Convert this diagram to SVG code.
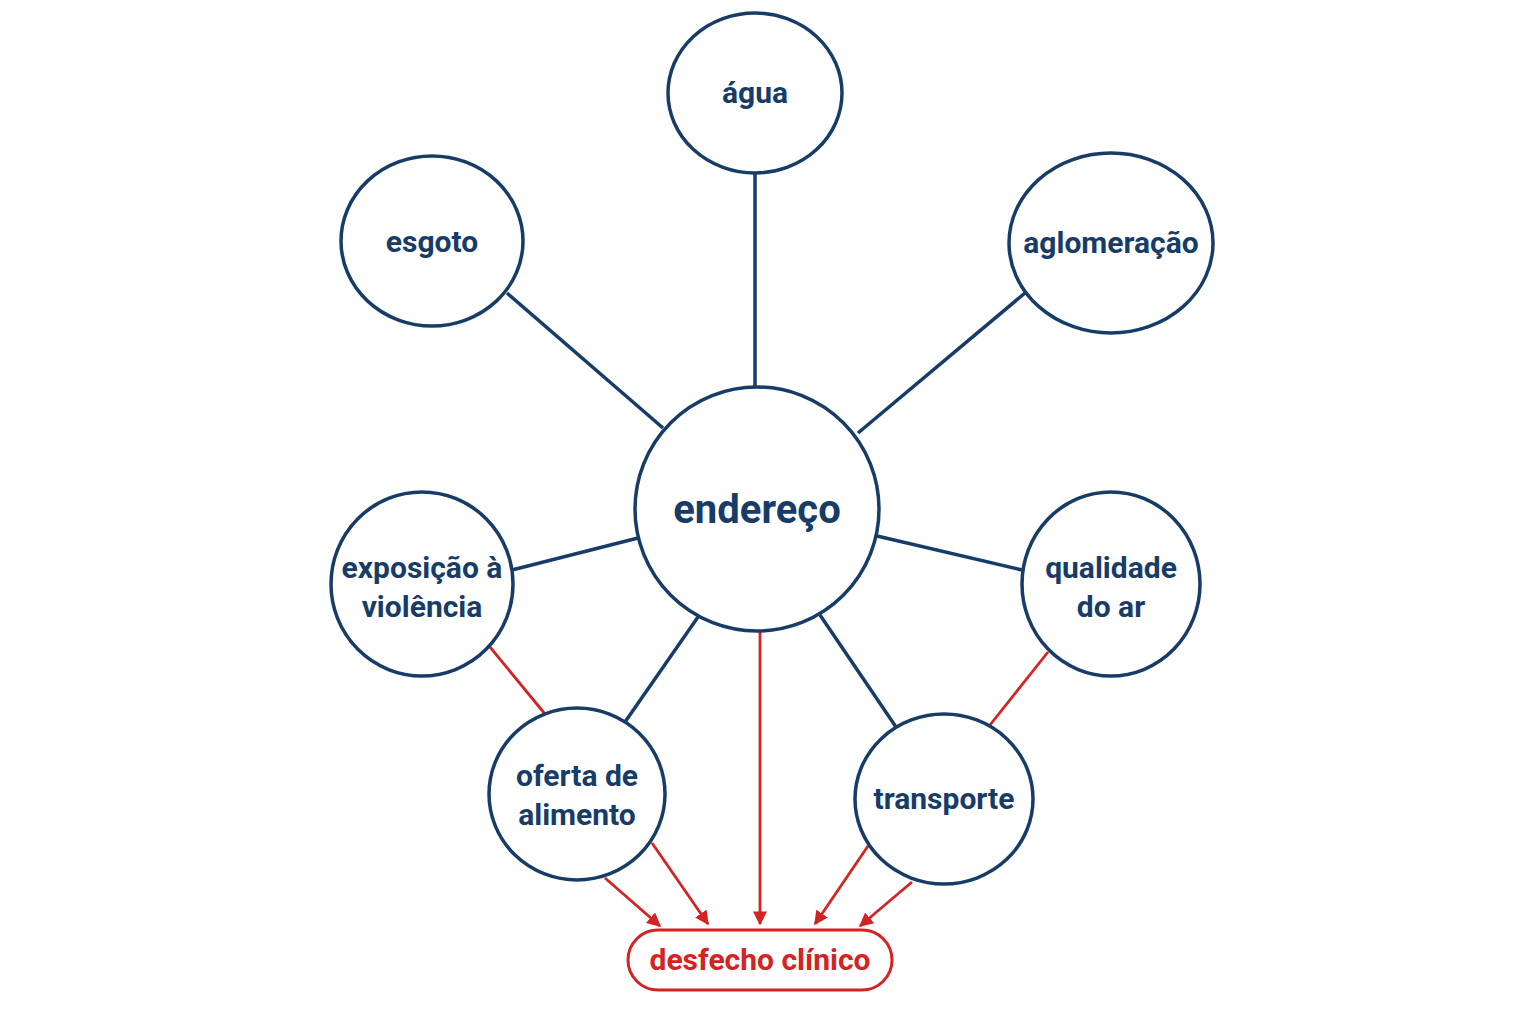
<svg xmlns="http://www.w3.org/2000/svg" width="1536" height="1024" viewBox="0 0 1536 1024">
<defs>
<marker id="ah" viewBox="0 0 10 10" refX="9" refY="5" markerWidth="5" markerHeight="5" orient="auto"><path d="M0,0 L10,5 L0,10 z" fill="#d42323"/></marker>
<style>
.n{fill:#fff;stroke:#173c67;stroke-width:3.5}
.t{font-family:"Roboto","Liberation Sans",sans-serif;font-weight:bold;fill:#173c67;text-anchor:middle;font-size:30px}
.l{stroke:#173c67;stroke-width:3.5;fill:none}
.r{stroke:#d42323;stroke-width:2.8;fill:none}
.ra{stroke:#d42323;stroke-width:2.8;fill:none;marker-end:url(#ah)}
</style>
</defs>
<rect width="1536" height="1024" fill="#fff"/>
<g id="connectors">
<line class="l" x1="755" y1="173" x2="755" y2="386"/>
<line class="l" x1="507" y1="293" x2="663" y2="428"/>
<line class="l" x1="1025" y1="293" x2="858" y2="433"/>
<line class="l" x1="512" y1="570" x2="638" y2="538"/>
<line class="l" x1="877" y1="536" x2="1022" y2="570"/>
<line class="l" x1="698" y1="617" x2="625" y2="722"/>
<line class="l" x1="820" y1="615" x2="896" y2="727"/>
<line class="r" x1="490" y1="647" x2="545" y2="714"/>
<line class="r" x1="1048" y1="652" x2="990" y2="725"/>
<line class="ra" x1="760" y1="632" x2="760" y2="924"/>
<line class="ra" x1="605" y1="878" x2="660" y2="926"/>
<line class="ra" x1="652" y1="843" x2="708" y2="924"/>
<line class="ra" x1="868" y1="846" x2="815" y2="924"/>
<line class="ra" x1="912" y1="882" x2="860" y2="926"/>
</g>
<g id="agua"><ellipse class="n" cx="755" cy="93" rx="87" ry="80"/><text class="t" x="755" y="103">água</text></g>
<g id="esgoto"><ellipse class="n" cx="432" cy="241" rx="91" ry="85"/><text class="t" x="432" y="252">esgoto</text></g>
<g id="aglomeracao"><ellipse class="n" cx="1111" cy="243" rx="102" ry="90"/><text class="t" x="1111" y="253" font-size="29">aglomeração</text></g>
<g id="endereco"><circle class="n" cx="757" cy="509" r="122"/><text class="t" x="757" y="523" style="font-size:40px">endereço</text></g>
<g id="exposicao"><ellipse class="n" cx="422" cy="584" rx="91" ry="92"/><text class="t" x="422" y="578">exposição à</text><text class="t" x="422" y="617">violência</text></g>
<g id="qualidade"><ellipse class="n" cx="1111" cy="584" rx="89" ry="92"/><text class="t" x="1111" y="578">qualidade</text><text class="t" x="1111" y="617">do ar</text></g>
<g id="oferta"><ellipse class="n" cx="577" cy="794" rx="88" ry="86"/><text class="t" x="577" y="786">oferta de</text><text class="t" x="577" y="825">alimento</text></g>
<g id="transporte"><ellipse class="n" cx="944" cy="799" rx="89" ry="85"/><text class="t" x="944" y="809">transporte</text></g>
<g id="desfecho"><rect x="628" y="930" width="264" height="60" rx="30" fill="#fff" stroke="#d42323" stroke-width="3"/><text class="t" x="760" y="970" style="fill:#d42323">desfecho clínico</text></g>
</svg>
